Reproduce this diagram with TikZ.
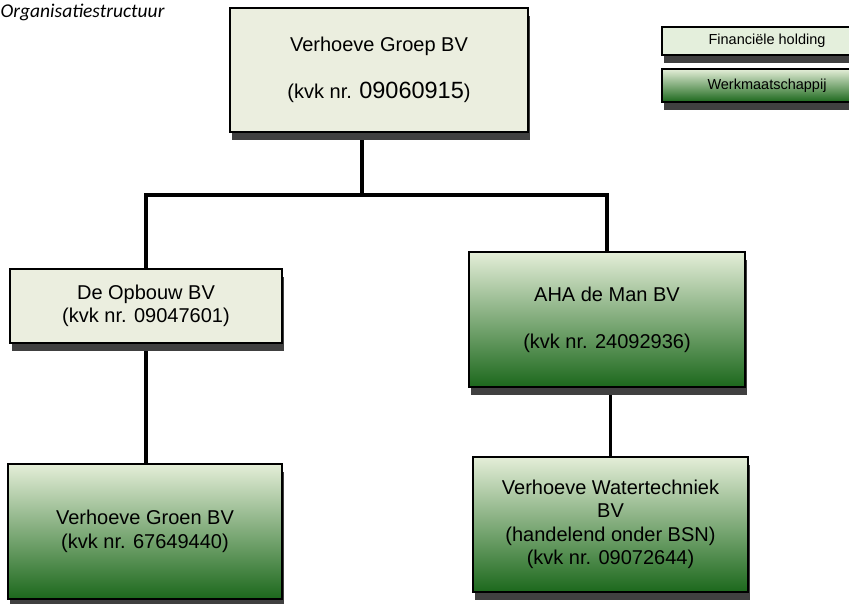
\documentclass[tikz,border=0pt]{standalone}
\usepackage{fontspec}
\setmainfont{Liberation Sans}
\newfontfamily\titlefont{Carlito}
\usetikzlibrary{shadows}
\pgfdeclarelayer{bg}
\pgfsetlayers{bg,main}
\definecolor{holding}{RGB}{235,238,223}
\definecolor{legendholding}{RGB}{228,239,220}
\definecolor{werktop}{RGB}{228,238,216}
\definecolor{werkbottom}{RGB}{28,104,28}
\definecolor{schaduw}{RGB}{64,64,64}

\begin{document}
\begin{tikzpicture}[x=1pt, y=-1pt]
\tikzstyle{every node}=[font=\fontsize{20}{23.5}\selectfont, align=center, inner sep=0pt]
\tikzstyle{box}=[draw=black, line width=1.2pt, drop shadow={shadow xshift=1.5pt, shadow yshift=-8pt, fill=schaduw, opacity=1}]
\tikzstyle{holdingbox}=[box, fill=holding]
\tikzstyle{werkbox}=[box, top color=werktop, bottom color=werkbottom]
\tikzstyle{legendbox}=[minimum width=210pt, font=\fontsize{14.5}{16}\selectfont]
\tikzstyle{conn}=[line width=3.5pt]
\useasboundingbox (0,0) rectangle (849,604);
\node[anchor=base west, font=\titlefont\itshape\fontsize{19.5}{22}\selectfont] (titel) at (0.5,18) {Organisatiestructuur};
\node[holdingbox, minimum width=298pt, minimum height=124pt] (groep) at (379,70) {Verhoeve Groep BV\\[23.5pt] (kvk nr. {\fontsize{23.5}{23.5}\selectfont 09060915})};
\node[holdingbox, minimum width=272pt, minimum height=74pt] (opbouw) at (146,306) {De Opbouw BV\\ (kvk nr. 09047601)};
\node[werkbox, minimum width=276pt, minimum height=135pt] (aha) at (607,319.5) {AHA de Man BV\\[23.5pt] (kvk nr. 24092936)};
\node[werkbox, minimum width=274pt, minimum height=135pt] (groen) at (145,531.5) {Verhoeve Groen BV\\ (kvk nr. 67649440)};
\node[werkbox, minimum width=275pt, minimum height=135pt] (water) at (610.5,524.5) {Verhoeve Watertechniek\\ BV\\ (handelend onder BSN)\\ (kvk nr. 09072644)};
% legenda
\node[box, legendbox, fill=legendholding, minimum height=28pt] (legfin) at (767,41) {Financiële holding};
\node[werkbox, legendbox, minimum height=33pt] (legwerk) at (767,85.5) {Werkmaatschappij};
\coordinate (splitsing) at (362,195);
\begin{pgfonlayer}{bg}
\draw[conn] (splitsing |- groep.south) -- (splitsing);
\draw[conn] (splitsing) -| (opbouw.north);
\draw[conn] (splitsing) -| (aha.north);
\draw[conn] (opbouw.south) -- (opbouw.south |- groen.north);
\draw[conn] (water.north |- aha.south) -- (water.north);
\end{pgfonlayer}
\end{tikzpicture}
\end{document}
